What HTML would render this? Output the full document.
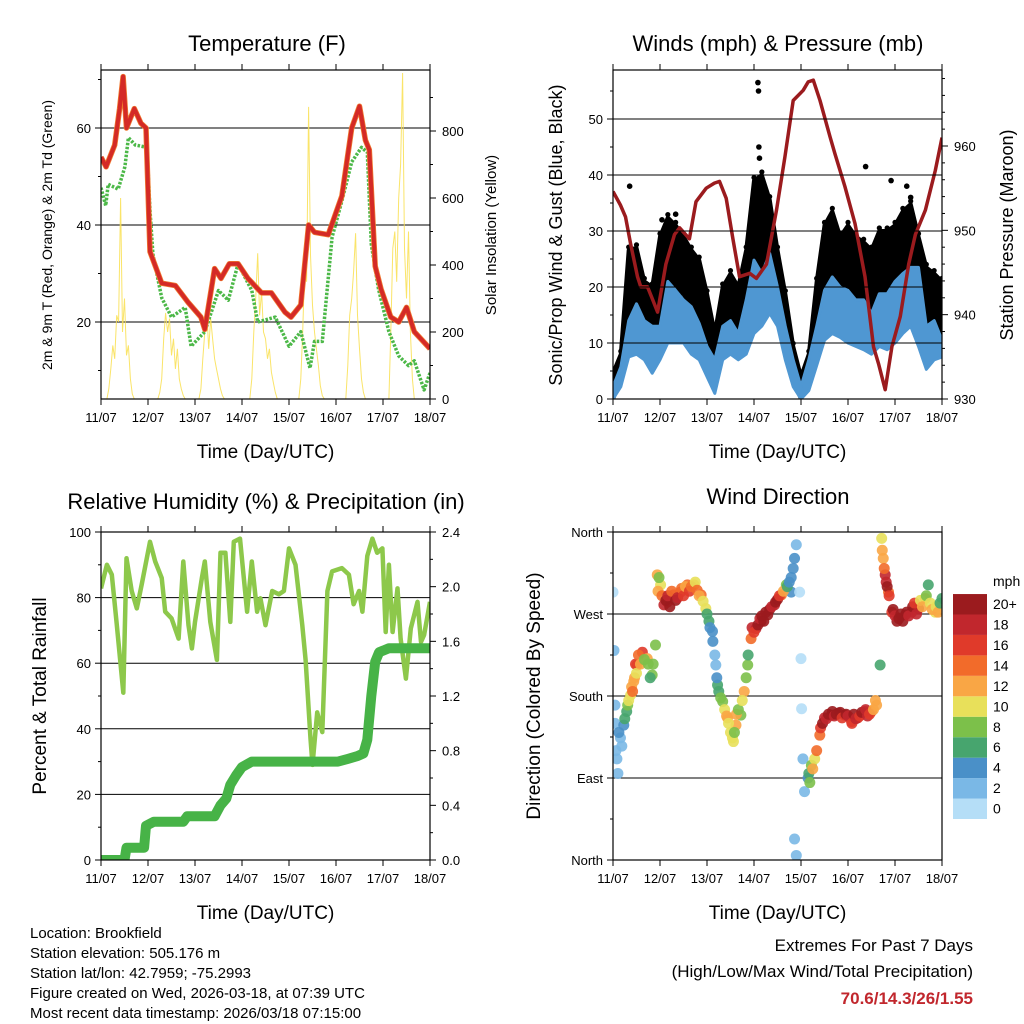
<!DOCTYPE html>
<html><head><meta charset="utf-8">
<style>
html,body{margin:0;padding:0;background:#fff;}
svg{display:block;font-family:"Liberation Sans",Arial,sans-serif;}
</style></head>
<body>
<svg id="chart" width="1024" height="1024" viewBox="0 0 1024 1024" xmlns="http://www.w3.org/2000/svg">
<defs>
<clipPath id="c1"><rect x="101" y="70" width="329" height="329"/></clipPath>
<clipPath id="c2"><rect x="613" y="70" width="329" height="329"/></clipPath>
<clipPath id="c3"><rect x="101" y="532" width="329" height="328"/></clipPath>
<clipPath id="c4"><rect x="613" y="532" width="329" height="328"/></clipPath>
</defs>
</svg>
<script>
// ---------- DATA ----------
const dayLabels = ["11/07","12/07","13/07","14/07","15/07","16/07","17/07","18/07"];
const tempT = [0,2.6,7,9.5,11.3,13,17,20.4,23,25,31,38,44.6,51,53,58,61.3,65.5,70,75,82,87,94,97,102,106,109,116,123,128,132,135,137,140,143,148,152,156,160,168];
const tempV = [54,52,56.5,64,70.6,60,64,61,60,34.5,28,27.5,24,21,18.5,31,29,32,32,29,26,26,22,21,23.5,40,38.5,38,46,60,64.5,57.5,55.5,31.5,26.8,21,20,23,18,14.5];
const dewT = [0,2.4,3.7,8.8,12.2,14,17.5,23.5,25,26.5,31,36,43,46,53,60,65,70,77,80,89,96,102,106.7,109,113,118,123,128,133,136,138,141.7,147,152,157,160,165,168];
const dewV = [47.7,44,48.4,47.4,52,58,56.5,56,43,34,25,21,23,15,18,26.5,24.5,32,26.5,20,21,15,18,10.5,16,16,37.5,45,53,56,55,36,26.8,18,13,11,12,6,9.5];
const solar = [0,0,0,0,
 30,90,160,120,250,230,600,200,300,130,160,60,15,
 0,0,0,0,0,0,0,0,0,0,0,0,0,
 20,60,180,257,200,240,130,180,90,150,60,30,10,0,0,
 0,0,0,0,0,0,
 30,120,200,260,150,240,180,120,90,60,30,10,0,
 0,0,0,0,0,0,0,0,0,0,0,0,0,
 60,200,300,435,250,320,200,180,120,150,80,50,20,0,
 0,0,0,0,0,0,0,0,0,0,0,
 60,200,400,350,872,430,280,200,150,100,40,10,0,
 0,0,0,0,0,0,0,0,0,0,0,
 100,250,300,380,495,250,150,60,20,0,
 0,0,0,0,0,0,0,0,0,0,0,0,
 200,450,500,350,600,700,973,450,300,500,200,60,0,
 0,0,0,0,0,0,0,0];
const windT = [0,4,8,12,16,20,24,28,32,36,40,44,48,52,56,60,64,68,72,76,80,84,88,92,96,100,104,108,112,116,120,124,128,132,136,140,144,148,152,156,160,164,168];
const windHi = [2.2,5.7,14,17,14,13,13,21,19.4,17.7,16.5,13.5,9.4,7,13,14,11.7,17.7,24.8,22.4,26,20,13,7,2.2,7,13,19.4,21.8,20,19.4,17.7,17.7,15.3,18.8,18.8,21,22.4,23.5,23.5,13,14,10.5];
const windLo = [0,2.2,7.5,8,7,4.6,7,10,10,10,8,7,4,1,7,8,7,8,11.7,13,15.3,13,7,2.2,0,1.5,6,10.5,11.7,11,10,9.4,8.8,8,9.4,8.8,10,11.7,13,9.4,5.3,7,7.5];
const gustHi = [4.6,8,26.6,27,21,20,29,32.4,31,29,26.6,24.8,18.8,11.7,20,22.4,20,26.6,39,40,35.6,26.6,18.8,9.4,4,8,21,31,33.5,29,31,29,28,26.6,30,30,31,33.5,34.8,29,23.5,22.4,21];
const gustLo = [0,3.4,11.7,15.3,13,10,14,18.8,18.8,18.8,15.3,13,7.5,3.4,10,11.7,11.7,15.3,22.4,23.5,24.8,17.7,11.7,3.4,0,3.4,10,18.8,20,18.8,17.7,16.5,15.3,15.3,16.5,16.5,18.8,20,18.8,15.3,11.7,14,10];
const gustOutT = [8.5,74,74.3,74.5,74.8,129,142,150,152,25,32];
const gustOutV = [38,56.5,55,45,43,41.5,39,38,36,32,33];
const presT = [0,3.8,6.4,9,12.5,14.2,17.6,20.2,22.8,27,31.4,34,39,42.4,47.6,51.8,54.4,57.8,61.2,64.6,69.8,73.2,78.4,83.5,87.8,92,97.1,99.7,102.3,105.7,110.8,113.3,118.4,123.6,128.7,133,135.6,139,142.4,146.7,151,154.4,159.5,164.6,168];
const presV = [954.6,953,951.6,948.4,944.5,943.3,943.3,941.8,940.3,946,949.5,950.3,949,953.4,955,955.6,955.8,953.8,949,944.5,944.9,944.3,946,952.4,958.7,965.4,966.6,967.6,967.8,965.4,961.1,959.1,955.2,950.8,944.5,936.2,934.2,931.1,936.2,939.8,946,949.5,952.4,957.1,961];
const rhT = [0,3,5.5,8,11.4,13,15.7,18.3,20.8,25,27.7,31,32.8,36,39.6,42,44.7,46.4,48,51.5,53,55.8,59.2,61,63.5,66,67.8,71,72.9,74.6,77,79.7,81.4,84,87.4,90.8,93.4,96,99.3,102.8,104.5,107,108,110.4,113,115.6,118,123,126.6,129,131.8,133.5,136,138.6,141,143.7,145.4,147,148.9,151.4,153,155.7,158.2,161.6,163.4,165,168];
const rhV = [82.8,90,87,72,51,92,82,76.7,84,97,91,86,75.7,73.7,67.5,91,71.6,64.5,72.6,86,91,72.6,61,93.7,93.7,72.6,97,98,86,75.7,91,75.7,79.8,71.6,82,81,82,95,90,71.6,61,37,29,45,39,82,88,89,87,78,82,75.7,92.7,98,93.7,95,69.5,90,69.5,82.8,67.5,55.3,70.6,78.7,66.5,68.6,78.7];
const rainT = [0,12,13,22,23,27,42,44,58,61,64,66,69,72,77,121,126,131,134,136,138,140,142,147,168];
const rainV = [0,0,0.09,0.09,0.25,0.28,0.28,0.32,0.32,0.4,0.45,0.55,0.62,0.68,0.72,0.72,0.74,0.76,0.78,0.88,1.2,1.45,1.52,1.55,1.55];
const dirT = [0,0.5,1,2,3.8,5.5,7,9,10.6,12.3,15,17.5,20,21.7,22.6,24.3,27.7,31,34.5,38,41.4,45,47.4,49,50.8,52.5,53.4,56,58.5,61,62.8,65.3,67,68.8,70.5,73,75.6,79,82.5,86,88.5,91,92.7,93.6,95.3,96,96.3,97,97.8,93.6,92.7,99.6,101.3,103,105.6,108,111.5,115,118.4,121.8,125,128.6,132,134.6,136.4,137.2,138,139,140.7,142.4,145,149.3,152.6,156,159.5,161,164.6,168,
 1,1.5,2.5,3,4.5,6,7.5,8,9.5,10,11,11.5,12,13,14,16,18,19,20.5,
 23,23.5,25,26,27,28,29,30,32,33,35,36,37,39,40,42,43,44,46,48,
 49.5,51,52,53,54,55,57,58,59,60,61.5,62,63,64,66,68,69,
 71,72,74,75,76,77,78,80,81,83,84,85,87,89,90,91,92,
 100,100.5,102,104,106,107,109,110,112,113,114,116,117,119,120,122,123,124,126,127,129,130,131,133,134,
 137.5,138.5,139.5,140,141,143,144,146,147,148,150,151,153,154,155,157,158,160,162,163,165,166,167];
const dirV = [294,230,150,111,134,148,163,181,196,214,228,221,203,236,313,302,283,291,294,302,302,291,276,262,251,214,192,174,156,134,148,159,185,214,243,254,262,269,280,291,302,294,331,346,294,221,166,111,75,5,23,90,104,111,137,156,159,161,159,152,156,163,163,170,214,353,331,313,294,272,262,269,272,276,287,302,272,287,
 170,120,95,140,125,155,170,175,190,185,200,215,205,225,215,220,215,200,215,
 295,310,290,280,285,290,278,295,285,288,298,290,300,295,300,305,296,290,284,270,
 255,240,225,200,185,178,165,158,150,140,130,140,160,165,175,200,225,
 255,250,258,265,268,262,272,275,278,283,286,290,295,300,305,310,320,
 95,85,100,120,145,150,155,160,163,158,160,162,156,160,158,150,160,155,158,162,165,158,160,165,175,
 340,320,305,300,290,275,268,265,270,262,272,268,278,282,270,285,278,290,282,275,278,272,282];
const dirS = [1,2,2,2,3,4,6,10,13,14,16,12,8,8,12,10,18,16,16,14,12,14,10,6,4,3,6,9,12,10,12,8,12,8,14,18,20,20,18,14,8,4,4,3,1,1,1,2,3,2,2,4,8,10,14,18,20,20,18,16,16,16,14,12,6,10,12,18,14,16,20,20,18,20,12,6,10,6,
 2,2,3,4,3,6,8,10,12,14,12,16,10,14,12,8,8,6,8,
 12,8,14,18,20,18,20,14,20,18,14,16,12,16,14,10,14,12,10,6,
 4,4,3,4,6,8,10,12,10,10,10,8,12,8,10,8,6,
 18,16,20,18,20,20,20,20,18,20,20,16,12,6,4,4,4,
 6,8,12,14,16,20,18,20,20,18,20,20,16,20,18,16,20,18,16,20,18,18,16,12,12,
 12,14,18,20,16,20,18,20,20,20,20,18,20,16,18,10,12,8,10,12,10,12,6];
const speedLabels = ["0","2","4","6","8","10","12","14","16","18","20+"];
const speedColors = ["#b5def7","#7ab8e6","#4a90c8","#47a56e","#7cc04a","#e8e05a","#f9a645","#f26b2a","#e03a2a","#c1272d","#9b1b1e"];

// ---------- HELPERS ----------
const svg = document.getElementById('chart');
const NS = "http://www.w3.org/2000/svg";
function mk(tag, attrs, name, parent) {
  const el = document.createElementNS(NS, tag);
  for (const k in attrs) el.setAttribute(k, attrs[k]);
  
  
  (parent || svg).appendChild(el);
  return el;
}
function txt(x, y, s, size, anchor, name, extra) {
  const el = mk('text', Object.assign({x:x, y:y, 'font-size':size, 'text-anchor':anchor||'middle', fill:'#000'}, extra||{}), name);
  el.textContent = s;
  return el;
}
function vtxt(x, y, s, size, name) {
  const el = mk('text', {x:0, y:0, 'font-size':size, 'text-anchor':'middle', fill:'#000', transform:'translate('+x+','+y+') rotate(-90)'}, name);
  el.textContent = s;
  return el;
}
const P1 = {x0:101,x1:430,y0:70,y1:399,clip:'c1'};
const P2 = {x0:613,x1:942,y0:70,y1:399,clip:'c2'};
const P3 = {x0:101,x1:430,y0:532,y1:860,clip:'c3'};
const P4 = {x0:613,x1:942,y0:532,y1:860,clip:'c4'};
function xs(p, t) { return p.x0 + t / 168 * (p.x1 - p.x0); }
function lin(d0, d1, r0, r1) { return v => r0 + (v - d0) / (d1 - d0) * (r1 - r0); }
function pathOf(p, T, V, ys) { return T.map((t,i)=>(i?'L':'M')+xs(p,t).toFixed(1)+','+ys(V[i]).toFixed(1)).join(''); }

function timeAxis(p, prefix) {
  for (let d = 0; d <= 7; d++) {
    const x = p.x0 + d * (p.x1 - p.x0) / 7;
    mk('line', {x1:x, y1:p.y1, x2:x, y2:p.y1+6, stroke:'#000', 'stroke-width':1}, prefix+'-x-tick');
    mk('line', {x1:x, y1:p.y0, x2:x, y2:p.y0-6, stroke:'#000', 'stroke-width':1}, prefix+'-x-tick-top');
    txt(x, p.y1+23, dayLabels[d], 13, 'middle', prefix+'-x-tick-label');
  }
  txt((p.x0+p.x1)/2, p.y1+59, 'Time (Day/UTC)', 19, 'middle', prefix+'-x-axis-title');
}
function yTicks(p, vals, ys, labels, side, prefix, minor) {
  vals.forEach((v,i) => {
    const y = ys(v);
    if (side === 'left') {
      mk('line', {x1:p.x0-6, y1:y, x2:p.x0, y2:y, stroke:'#000'}, prefix+'-tick');
      txt(p.x0-10, y+5, labels[i], 13, 'end', prefix+'-tick-label');
    } else {
      mk('line', {x1:p.x1, y1:y, x2:p.x1+6, y2:y, stroke:'#000'}, prefix+'-tick');
      txt(p.x1+12, y+5, labels[i], 13, 'start', prefix+'-tick-label');
    }
  });
  (minor||[]).forEach(v => {
    const y = ys(v);
    if (side === 'left') mk('line', {x1:p.x0-3, y1:y, x2:p.x0, y2:y, stroke:'#000'}, prefix+'-minor-tick');
    else mk('line', {x1:p.x1, y1:y, x2:p.x1+3, y2:y, stroke:'#000'}, prefix+'-minor-tick');
  });
}
function grid(p, ys, vals, prefix) {
  vals.forEach(v => mk('line', {x1:p.x0, y1:ys(v), x2:p.x1, y2:ys(v), stroke:'#000', 'stroke-width':1}, prefix+'-gridline'));
}
function frame(p, prefix) {
  mk('rect', {x:p.x0, y:p.y0, width:p.x1-p.x0, height:p.y1-p.y0, fill:'none', stroke:'#000', 'stroke-width':1.2}, prefix+'-plot-frame');
}
function group(p, name) { return mk('g', {'clip-path':'url(#'+p.clip+')'}, name); }

// ---------- PANEL 1: TEMPERATURE ----------
const yT = lin(20, 60, 322, 128);
const yS = lin(0, 800, 399, 131);
txt(267, 51, 'Temperature (F)', 22, 'middle', 'temperature-title');
grid(P1, yT, [20,40,60], 'temp');
const g1 = group(P1, 'temperature-series');
mk('path', {d: solar.map((v,i)=>(i?'L':'M')+xs(P1,i).toFixed(1)+','+yS(v).toFixed(1)).join(''), fill:'none', stroke:'#f9df4f', 'stroke-width':1, opacity:0.85}, 'solar-insolation-line', g1);
mk('path', {d: pathOf(P1, dewT, dewV, yT), fill:'none', stroke:'#4cb848', 'stroke-width':3.5, 'stroke-dasharray':'2.5 1.5', 'stroke-linejoin':'round'}, 'dewpoint-line', g1);
mk('path', {d: pathOf(P1, tempT, tempV, yT), fill:'none', stroke:'#f07a30', 'stroke-width':5.5, 'stroke-linejoin':'round'}, 'temp-9m-line', g1);
mk('path', {d: pathOf(P1, tempT, tempV, yT), fill:'none', stroke:'#d42a26', 'stroke-width':4, 'stroke-linejoin':'round'}, 'temp-2m-line', g1);
frame(P1, 'temp');
yTicks(P1, [20,40,60], yT, ['20','40','60'], 'left', 'temp-y', [10,30,50,70]);
yTicks(P1, [0,200,400,600,800], yS, ['0','200','400','600','800'], 'right', 'solar-y', [100,300,500,700,900]);
timeAxis(P1, 'temp');
vtxt(52, 235, '2m & 9m T (Red, Orange) & 2m Td (Green)', 14, 'temp-y-axis-title');
vtxt(496, 235, 'Solar Insolation (Yellow)', 15, 'solar-y-axis-title');

// ---------- PANEL 2: WINDS ----------
const yW = lin(0, 10, 399, 343);
const yP = lin(930, 960, 399, 146);
txt(778, 51, 'Winds (mph) & Pressure (mb)', 22, 'middle', 'winds-title');
const g2 = group(P2, 'winds-series');
const gustPoly = windT.map((t,i)=>xs(P2,t).toFixed(1)+','+yW(gustHi[i]).toFixed(1)).concat(windT.slice().reverse().map((t,j)=>{const i=windT.length-1-j;return xs(P2,t).toFixed(1)+','+yW(gustLo[i]).toFixed(1);})).join(' ');
mk('polygon', {points:gustPoly, fill:'#000', stroke:'#000', 'stroke-width':4, 'stroke-linejoin':'round'}, 'gust-band', g2);
windT.forEach((t,i)=>{
  mk('circle', {cx:xs(P2,t), cy:yW(gustHi[i])-3, r:2.6, fill:'#000'}, 'gust-point', g2);
});
gustOutT.forEach((t,i)=>{
  mk('circle', {cx:xs(P2,t), cy:yW(gustOutV[i]), r:2.8, fill:'#000'}, 'gust-outlier-point', g2);
});
const windPoly = windT.map((t,i)=>xs(P2,t).toFixed(1)+','+yW(windHi[i]).toFixed(1)).concat(windT.slice().reverse().map((t,j)=>{const i=windT.length-1-j;return xs(P2,t).toFixed(1)+','+yW(windLo[i]).toFixed(1);})).join(' ');
mk('polygon', {points:windPoly, fill:'#4f97d2', stroke:'#4f97d2', 'stroke-width':3, 'stroke-linejoin':'round'}, 'wind-speed-band', g2);
grid(P2, yW, [10,20,30,40,50], 'winds');
mk('path', {d: pathOf(P2, presT, presV, yP), fill:'none', stroke:'#9b1b1e', 'stroke-width':3.5, 'stroke-linejoin':'round'}, 'pressure-line', g2);
frame(P2, 'winds');
yTicks(P2, [0,10,20,30,40,50], yW, ['0','10','20','30','40','50'], 'left', 'wind-y', [5,15,25,35,45,55]);
yTicks(P2, [930,940,950,960], yP, ['930','940','950','960'], 'right', 'pressure-y', [932,934,936,938,942,944,946,948,952,954,956,958,962,964,966,968]);
timeAxis(P2, 'winds');
vtxt(562, 235, 'Sonic/Prop Wind & Gust (Blue, Black)', 18, 'wind-y-axis-title');
vtxt(1013, 235, 'Station Pressure (Maroon)', 18, 'pressure-y-axis-title');

// ---------- PANEL 3: RH & PRECIP ----------
const yRH = lin(0, 100, 860, 532);
const yR = lin(0, 2.4, 860, 532);
txt(266, 509, 'Relative Humidity (%) & Precipitation (in)', 22, 'middle', 'humidity-title');
grid(P3, yRH, [20,40,60,80], 'rh');
const g3 = group(P3, 'humidity-series');
mk('path', {d: pathOf(P3, rhT, rhV, yRH), fill:'none', stroke:'#8dc84b', 'stroke-width':4.5, 'stroke-linejoin':'round'}, 'relative-humidity-line', g3);
mk('path', {d: pathOf(P3, rainT, rainV, yR), fill:'none', stroke:'#47b347', 'stroke-width':10, 'stroke-linejoin':'round', 'stroke-linecap':'round'}, 'precipitation-line', g3);
frame(P3, 'rh');
yTicks(P3, [0,20,40,60,80,100], yRH, ['0','20','40','60','80','100'], 'left', 'rh-y', [10,30,50,70,90]);
yTicks(P3, [0,0.4,0.8,1.2,1.6,2.0,2.4], yR, ['0.0','0.4','0.8','1.2','1.6','2.0','2.4'], 'right', 'precip-y', [0.2,0.6,1.0,1.4,1.8,2.2]);
timeAxis(P3, 'rh');
vtxt(46, 696, 'Percent & Total Rainfall', 19, 'rh-y-axis-title');

// ---------- PANEL 4: WIND DIRECTION ----------
const yD = lin(0, 360, 860, 532);
txt(778, 504, 'Wind Direction', 22, 'middle', 'wind-direction-title');
grid(P4, yD, [90,180,270], 'dir');
const g4 = group(P4, 'wind-direction-series');
dirT.forEach((t,i)=>{
  const idx = Math.min(10, Math.floor(dirS[i]/2));
  mk('circle', {cx:xs(P4,t), cy:yD(dirV[i]), r:5.5, fill:speedColors[idx], opacity:0.9}, 'direction-point', g4);
});
frame(P4, 'dir');
yTicks(P4, [0,90,180,270,360], yD, ['North','East','South','West','North'], 'left', 'dir-y', [45,135,225,315]);
timeAxis(P4, 'dir');
vtxt(540, 696, 'Direction (Colored By Speed)', 19, 'dir-y-axis-title');
txt(993, 586, 'mph', 14, 'start', 'colorbar-unit');
speedColors.forEach((c,i)=>{
  const y = 819 - (i+1)*20.45;
  mk('rect', {x:953, y:y, width:34, height:20.45, fill:c}, 'colorbar-box');
  txt(993, y+15, speedLabels[i], 14, 'start', 'colorbar-label');
});

// ---------- FOOTER ----------
const footer = ['Location: Brookfield','Station elevation: 505.176 m','Station lat/lon: 42.7959; -75.2993','Figure created on Wed, 2026-03-18, at 07:39 UTC','Most recent data timestamp: 2026/03/18 07:15:00'];
footer.forEach((s,i)=>txt(30, 938+i*20, s, 15, 'start', 'station-info-line'));
txt(973, 951, 'Extremes For Past 7 Days', 17, 'end', 'extremes-heading');
txt(973, 977, '(High/Low/Max Wind/Total Precipitation)', 17, 'end', 'extremes-subheading');
txt(973, 1004, '70.6/14.3/26/1.55', 17, 'end', 'extremes-values', {fill:'#c1272d', 'font-weight':'bold'});
</script>
</body></html>
